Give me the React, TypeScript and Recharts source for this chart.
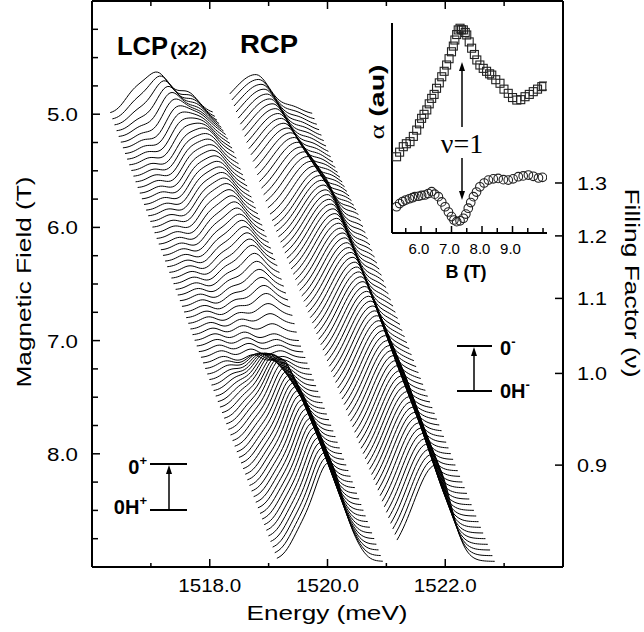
import { LineChart, Line, XAxis, YAxis, ScatterChart, Scatter } from "recharts"

const sans = "'Liberation Sans', Arial, sans-serif"
const serif = "'Liberation Serif', 'Times New Roman', serif"

// baseline field of every spectrum (T)
const fields = [
  5.0, 5.05, 5.1, 5.15, 5.2, 5.25, 5.3, 5.35, 5.4, 5.45,
  5.5, 5.55, 5.6, 5.65, 5.7, 5.75, 5.8, 5.85, 5.9, 5.95,
  6.0, 6.05, 6.1, 6.15, 6.2, 6.25, 6.3, 6.35, 6.4, 6.45,
  6.5, 6.55, 6.6, 6.65, 6.7, 6.75, 6.8, 6.85, 6.9, 6.95,
  7.0, 7.05, 7.1, 7.15, 7.2, 7.25, 7.3, 7.35, 7.4, 7.45,
  7.5, 7.55, 7.6, 7.65, 7.7, 7.75, 7.8, 7.85, 7.9, 7.95,
  8.0, 8.05, 8.1, 8.15, 8.2, 8.25, 8.3, 8.35, 8.4, 8.45,
  8.5, 8.55, 8.6, 8.65, 8.7, 8.75, 8.8, 8.85, 8.9, 8.95,
]

// energy window of the spectra at first / last field (meV)
const windowFields = [5.0, 8.95]
const lcpStart = [1516.31, 1519.14]
const lcpEnd = [1518.05, 1520.94]
const rcpStart = [1518.34, 1521.18]
const rcpEnd = [1519.74, 1522.84]

// RCP line: peak energy (meV) and height (T) vs field
const rcpFields = [5.0, 5.5, 6.0, 6.5, 7.0, 7.5, 8.0, 8.5, 8.95]
const rcpPeak = [1518.78, 1519.26, 1519.84, 1520.16, 1520.5, 1520.84, 1521.2, 1521.52, 1521.84]
const rcpHeight = [0.35, 0.42, 0.5, 0.58, 0.65, 0.72, 0.78, 0.82, 0.85]
const rcpShoulder = [0.06, 0.09, 0.11, 0.1, 0.06, 0.02, 0, 0, 0]

// LCP: upper line fading out, lower line appearing near nu = 1
const lcpHighFields = [5.0, 5.15, 5.3, 5.5, 6.0, 6.5, 6.8, 7.0]
const lcpHighPeak = [1517.0, 1517.3, 1517.55, 1517.8, 1518.2, 1518.68, 1518.95, 1519.1]
const lcpHighHeight = [0.3, 0.31, 0.32, 0.33, 0.33, 0.27, 0.15, 0]
const lcpLowFields = [7.2, 7.3, 7.45, 7.6, 7.8, 8.2, 8.6, 8.95]
const lcpLowPeak = [1518.88, 1518.93, 1519.0, 1519.1, 1519.25, 1519.53, 1519.8, 1520.04]
const lcpLowHeight = [0, 0.12, 0.27, 0.41, 0.57, 0.69, 0.76, 0.8]
// small ripples on the LCP traces (offset from window start, height)
const lcpRippleOffset = [0.35, 0.85, 1.35]
const lcpRippleHeight = [0.06, 0.075, 0.06]

// axes
const energyTicks = [1517, 1518, 1519, 1520, 1521, 1522, 1523]
const energyLabels = [1518, 1520, 1522]
const fieldTicks = [4.25, 4.5, 4.75, 5, 5.25, 5.5, 5.75, 6, 6.25, 6.5, 6.75, 7, 7.25, 7.5, 7.75, 8, 8.25, 8.5, 8.75]
const fieldLabels = [5, 6, 7, 8]
const fillingTicks = [1.3, 1.2, 1.1, 1.0, 0.9]
const nuOneField = 7.29

// inset: absorption vs B
const squareB = [5.2, 5.3, 5.42, 5.52, 5.64, 5.75, 5.86, 5.95, 6.02, 6.1, 6.19, 6.27, 6.35, 6.43, 6.51, 6.6, 6.68, 6.76, 6.84, 6.92, 7.0, 7.06, 7.11, 7.17, 7.22, 7.28, 7.33, 7.39, 7.45, 7.5, 7.58, 7.66, 7.75, 7.83, 7.93, 8.04, 8.15, 8.25, 8.32, 8.45, 8.59, 8.72, 8.86, 9.0, 9.14, 9.27, 9.41, 9.55, 9.68, 9.82, 9.96, 10.02]
const squareA = [36.3, 38.5, 41.1, 42.5, 43.5, 46, 49, 52, 54.6, 56.5, 58.6, 61.5, 64.1, 66, 68.9, 71.5, 74.4, 77, 80, 83, 86.3, 89, 91.9, 94.5, 96.7, 97.5, 96.8, 96.7, 95.5, 94.3, 91, 88, 85, 82.4, 80, 78.4, 77, 75.8, 75.2, 73, 71.3, 68.5, 66.5, 64.5, 63.3, 63.5, 64.9, 66, 67.3, 68.5, 69.7, 70]
const circleB = [5.2, 5.3, 5.4, 5.5, 5.62, 5.72, 5.8, 5.92, 6.02, 6.13, 6.24, 6.35, 6.45, 6.57, 6.68, 6.79, 6.9, 7.0, 7.08, 7.17, 7.28, 7.39, 7.47, 7.55, 7.63, 7.72, 7.82, 7.93, 8.07, 8.21, 8.37, 8.53, 8.7, 8.86, 9.02, 9.19, 9.35, 9.52, 9.68, 9.85, 9.98]
const circleA = [12.5, 14, 15, 15.7, 16.3, 16.8, 17.3, 17.5, 17.9, 18.1, 18.8, 19.7, 18.5, 17.3, 14.8, 12.5, 10, 7.8, 6.2, 5.4, 5.8, 7, 9, 11.8, 14.5, 17.3, 19.5, 22, 23.8, 25.2, 25.8, 26, 25.4, 25.2, 25.8, 26.8, 27.2, 27.6, 27, 26.2, 26.5]
const insetTicks = [5.5, 6, 6.5, 7, 7.5, 8, 8.5, 9, 9.5, 10]
const insetLabels = [6, 7, 8, 9]

const lookup = (xs: number[], ys: number[], x: number) => {
  if (x <= xs[0]) return ys[0]
  for (let i = 1; i < xs.length; i++) {
    if (x <= xs[i]) {
      const t = (x - xs[i - 1]) / (xs[i] - xs[i - 1])
      return ys[i - 1] + t * (ys[i] - ys[i - 1])
    }
  }
  return ys[ys.length - 1]
}

// one spectrum: baseline b minus a sum of peaks [centre, height, low-side width, high-side width]
const spectrum = (b: number, es: number, ee: number, peaks: number[][]) => {
  const pts: { x: number; y: number }[] = []
  const n = Math.round((ee - es) / 0.035)
  for (let k = 0; k <= n; k++) {
    const e = es + ((ee - es) * k) / n
    let s = 0
    for (const [c, a, wl, wr] of peaks) {
      const w = e < c ? wl : wr
      s += a * Math.exp(-((e - c) ** 2) / (2 * w * w))
    }
    pts.push({ x: e, y: b - s })
  }
  return pts
}

const rcpTraces = fields.map((b) => {
  const ep = lookup(rcpFields, rcpPeak, b)
  return spectrum(b, lookup(windowFields, rcpStart, b), lookup(windowFields, rcpEnd, b), [
    [ep, lookup(rcpFields, rcpHeight, b), 0.38, 0.25],
    [ep + 0.62, lookup(rcpFields, rcpShoulder, b), 0.17, 0.17],
  ])
})

const lcpTraces = fields.map((b) => {
  const es = lookup(windowFields, lcpStart, b)
  const hp = lookup(lcpHighFields, lcpHighPeak, b)
  const hh = lookup(lcpHighFields, lcpHighHeight, b)
  return spectrum(b, es, lookup(windowFields, lcpEnd, b), [
    [hp, hh, 0.27, 0.25],
    [hp + 0.55, hh * 0.45, 0.25, 0.25],
    [lookup(lcpLowFields, lcpLowPeak, b), lookup(lcpLowFields, lcpLowHeight, b), 0.34, 0.24],
    ...lcpRippleOffset.map((o, i) => [es + o, lcpRippleHeight[i], 0.14, 0.14]),
  ])
})

const squares = squareB.map((b, i) => ({ b, a: squareA[i] }))
const circles = circleB.map((b, i) => ({ b, a: circleA[i] }))

const BottomTick = ({ x, y, payload }: any) => {
  const major = energyLabels.includes(payload.value)
  return (
    <g>
      <line x1={x} x2={x} y1={y} y2={y - (major ? 8 : 4)} stroke="#000" strokeWidth={1.5} />
      {major && (
        <text x={x} y={y + 25} textAnchor="middle" fontFamily={sans} fontSize={19} textLength={63} lengthAdjust="spacingAndGlyphs">
          {payload.value.toFixed(1)}
        </text>
      )}
    </g>
  )
}

const TopTick = ({ x, y, payload }: any) => {
  const major = energyLabels.includes(payload.value)
  return <line x1={x} x2={x} y1={y} y2={y + (major ? 8 : 5)} stroke="#000" strokeWidth={1.5} />
}

const LeftTick = ({ x, y, payload }: any) => {
  const major = fieldLabels.includes(payload.value)
  return (
    <g>
      <line x1={x} x2={x + (major ? 8 : 6)} y1={y} y2={y} stroke="#000" strokeWidth={1.5} />
      {major && (
        <text x={x - 14} y={y + 7} textAnchor="end" fontFamily={sans} fontSize={18.5} textLength={31} lengthAdjust="spacingAndGlyphs">
          {payload.value.toFixed(1)}
        </text>
      )}
    </g>
  )
}

const RightTick = ({ x, y, payload }: any) => (
  <g>
    <line x1={x} x2={x - 8} y1={y} y2={y} stroke="#000" strokeWidth={1.5} />
    <text x={x + 14} y={y + 7} fontFamily={sans} fontSize={18.5} textLength={30} lengthAdjust="spacingAndGlyphs">
      {(nuOneField / payload.value).toFixed(1)}
    </text>
  </g>
)

const InsetTick = ({ x, y, payload }: any) => {
  const major = insetLabels.includes(payload.value)
  return (
    <g>
      <line x1={x} x2={x} y1={y} y2={y - (major ? 7 : 5)} stroke="#000" strokeWidth={1.5} />
      {major && (
        <text x={x - 2} y={y + 21} textAnchor="middle" fontFamily={sans} fontSize={15}>
          {payload.value.toFixed(1)}
        </text>
      )}
    </g>
  )
}

const SquareMark = ({ cx, cy }: any) => (
  <rect x={cx - 4} y={cy - 4} width={8} height={8} fill="none" stroke="#222" strokeWidth={1.1} />
)
const CircleMark = ({ cx, cy }: any) => <circle cx={cx} cy={cy} r={4.3} fill="none" stroke="#222" strokeWidth={1.1} />

const frame = { stroke: "#000", strokeWidth: 2 }

export default function App() {
  return (
    <div style={{ position: "absolute", left: 0, top: 0, width: 644, height: 632, background: "#fff" }}>
      <LineChart width={644} height={632} margin={{ top: 0, right: 41, bottom: 35, left: 52 }}>
        <XAxis xAxisId="b" dataKey="x" type="number" domain={[1516, 1524]} allowDataOverflow ticks={energyTicks} interval={0}
          height={30} tickSize={0} tickMargin={0} tickLine={false} axisLine={frame} tick={BottomTick} />
        <XAxis xAxisId="t" orientation="top" dataKey="x" type="number" domain={[1516, 1524]} allowDataOverflow ticks={energyTicks}
          interval={0} height={1} tickSize={0} tickMargin={0} tickLine={false} axisLine={frame} tick={TopTick} />
        <YAxis yAxisId="l" type="number" domain={[4, 9]} reversed allowDataOverflow ticks={fieldTicks} interval={0}
          width={40} tickSize={0} tickMargin={0} tickLine={false} axisLine={frame} tick={LeftTick} />
        <YAxis yAxisId="r" orientation="right" type="number" domain={[4, 9]} reversed allowDataOverflow
          ticks={fillingTicks.map((n) => nuOneField / n)} interval={0} width={40} tickSize={0} tickMargin={0}
          tickLine={false} axisLine={frame} tick={RightTick} />
        {lcpTraces.map((pts, i) => (
          <Line key={"l" + i} xAxisId="b" yAxisId="l" data={pts} dataKey="y" stroke="#000" strokeWidth={1}
            dot={false} activeDot={false} isAnimationActive={false} />
        ))}
        {rcpTraces.map((pts, i) => (
          <Line key={"r" + i} xAxisId="b" yAxisId="l" data={pts} dataKey="y" stroke="#000" strokeWidth={1}
            dot={false} activeDot={false} isAnimationActive={false} />
        ))}
      </LineChart>

      <div style={{ position: "absolute", left: 352, top: 13 }}>
        <ScatterChart width={205} height={275} margin={{ top: 10, right: 10, bottom: 0, left: 0 }}>
          <XAxis dataKey="b" type="number" domain={[5.05, 10.13]} allowDataOverflow ticks={insetTicks} interval={0}
            height={55} tickSize={0} tickMargin={0} tickLine={false} axisLine={frame} tick={InsetTick} />
          <YAxis dataKey="a" type="number" domain={[0, 100]} allowDataOverflow width={40} tick={false} tickLine={false} axisLine={frame} />
          <Scatter data={squares} shape={SquareMark} isAnimationActive={false} />
          <Scatter data={circles} shape={CircleMark} isAnimationActive={false} />
        </ScatterChart>
      </div>

      <svg width={644} height={632} style={{ position: "absolute", left: 0, top: 0, pointerEvents: "none" }}>
        <g fontFamily={sans} fill="#000">
          <text x={327} y={620} textAnchor="middle" fontSize={21} textLength={161} lengthAdjust="spacingAndGlyphs">Energy (meV)</text>
          <text transform="translate(31,282) rotate(-90)" textAnchor="middle" fontSize={21} textLength={211} lengthAdjust="spacingAndGlyphs">
            Magnetic Field (T)
          </text>
          <text transform="translate(625,283) rotate(90)" textAnchor="middle" fontSize={21} textLength={189} lengthAdjust="spacingAndGlyphs">
            Filling Factor (ν)
          </text>
          <text x={117} y={55} fontWeight="bold" fontSize={26} textLength={51} lengthAdjust="spacingAndGlyphs">LCP</text>
          <text x={170} y={55} fontWeight="bold" fontSize={18} textLength={37} lengthAdjust="spacingAndGlyphs">(x2)</text>
          <text x={240} y={53} fontWeight="bold" fontSize={26} textLength={58} lengthAdjust="spacingAndGlyphs">RCP</text>

          <text x={466} y={278} textAnchor="middle" fontWeight="bold" fontSize={18}>B (T)</text>
          <text transform="translate(384,102) rotate(-90)" textAnchor="middle" fontSize={21} textLength={75} lengthAdjust="spacingAndGlyphs">
            <tspan fontFamily={serif}>α</tspan>
            <tspan fontWeight="bold"> (au)</tspan>
          </text>
          <text x={462} y={153} textAnchor="middle" fontFamily={serif} fontSize={28}>ν=1</text>
          <line x1={462} x2={462} y1={127} y2={68} stroke="#000" strokeWidth={1.5} />
          <polygon points="462,62 459,71 465,71" />
          <line x1={462} x2={462} y1={158} y2={194} stroke="#000" strokeWidth={1.5} />
          <polygon points="462,200 459,191 465,191" />

          <line x1={457} x2={492} y1={346} y2={346} stroke="#000" strokeWidth={2} />
          <line x1={457} x2={492} y1={391} y2={391} stroke="#000" strokeWidth={2} />
          <line x1={474} x2={474} y1={391} y2={354} stroke="#000" strokeWidth={1.5} />
          <polygon points="474,347 471,356 477,356" />
          <text x={500} y={355} fontWeight="bold" fontSize={20}>0<tspan dy={-9} fontSize={13}>-</tspan></text>
          <text x={500} y={398} fontWeight="bold" fontSize={20}>0H<tspan dy={-9} fontSize={13}>-</tspan></text>

          <line x1={150} x2={187} y1={464} y2={464} stroke="#000" strokeWidth={2} />
          <line x1={150} x2={187} y1={510} y2={510} stroke="#000" strokeWidth={2} />
          <line x1={169} x2={169} y1={510} y2={472} stroke="#000" strokeWidth={1.5} />
          <polygon points="169,465 166,474 172,474" />
          <text x={147} y={474} textAnchor="end" fontWeight="bold" fontSize={20}>0<tspan dy={-9} fontSize={13}>+</tspan></text>
          <text x={147} y={514} textAnchor="end" fontWeight="bold" fontSize={20}>0H<tspan dy={-9} fontSize={13}>+</tspan></text>
        </g>
      </svg>
    </div>
  )
}
